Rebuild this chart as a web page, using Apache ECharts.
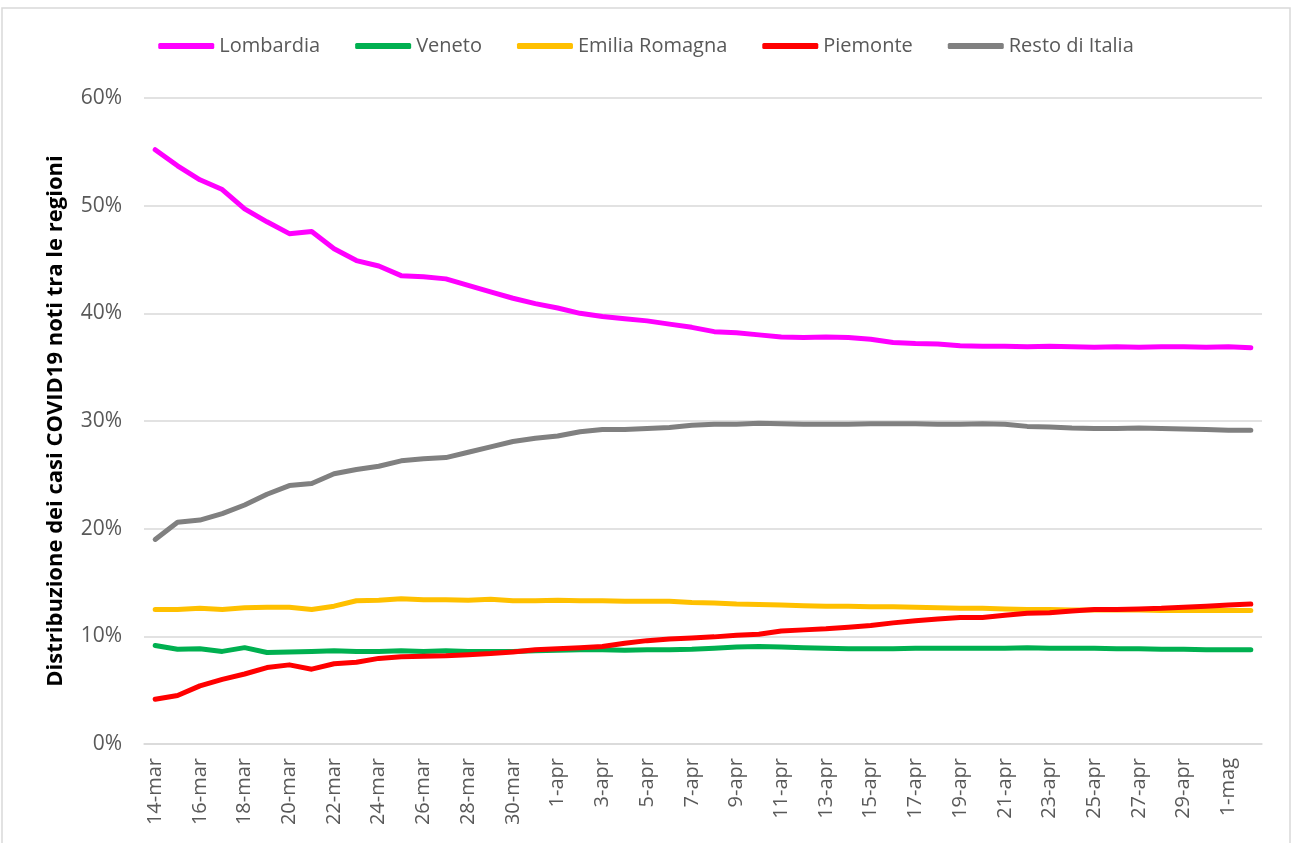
<!DOCTYPE html>
<html>
<head>
<meta charset="utf-8">
<script src="https://cdn.jsdelivr.net/npm/echarts@6/dist/echarts.min.js"></script>
<style>
    html, body { margin: 0; padding: 0; background: #fff; }
    #chart { width: 1292px; height: 843px; }
</style>
</head>
<body>
<div id="chart"></div>
<script>
// date categories 14-mar .. 2-mag
const dates = [
    '14-mar','15-mar','16-mar','17-mar','18-mar','19-mar','20-mar','21-mar','22-mar','23-mar',
    '24-mar','25-mar','26-mar','27-mar','28-mar','29-mar','30-mar','31-mar','1-apr','2-apr',
    '3-apr','4-apr','5-apr','6-apr','7-apr','8-apr','9-apr','10-apr','11-apr','12-apr',
    '13-apr','14-apr','15-apr','16-apr','17-apr','18-apr','19-apr','20-apr','21-apr','22-apr',
    '23-apr','24-apr','25-apr','26-apr','27-apr','28-apr','29-apr','30-apr','1-mag','2-mag'
];

const lombardia = [
    55.2, 53.7, 52.4, 51.5, 49.7, 48.5, 47.4, 47.6, 46.0, 44.9,
    44.4, 43.5, 43.4, 43.2, 42.6, 42.0, 41.4, 40.9, 40.5, 40.0,
    39.7, 39.5, 39.3, 39.0, 38.7, 38.3, 38.2, 38.0, 37.8, 37.75,
    37.8, 37.75, 37.6, 37.3, 37.2, 37.15, 37.0, 36.95, 36.95, 36.9,
    36.95, 36.9, 36.85, 36.9, 36.85, 36.9, 36.9, 36.85, 36.9, 36.8
];
const veneto = [
    9.15, 8.8, 8.85, 8.6, 8.95, 8.5, 8.55, 8.6, 8.65, 8.6,
    8.6, 8.65, 8.6, 8.65, 8.6, 8.6, 8.6, 8.65, 8.7, 8.75,
    8.75, 8.7, 8.75, 8.75, 8.8, 8.9, 9.0, 9.05, 9.0, 8.95,
    8.9, 8.85, 8.85, 8.85, 8.9, 8.9, 8.9, 8.9, 8.9, 8.95,
    8.9, 8.9, 8.9, 8.85, 8.85, 8.8, 8.8, 8.75, 8.75, 8.75
];
const emilia = [
    12.5, 12.5, 12.6, 12.5, 12.65, 12.7, 12.7, 12.5, 12.8, 13.3,
    13.35, 13.5, 13.4, 13.4, 13.35, 13.45, 13.3, 13.3, 13.35, 13.3,
    13.3, 13.25, 13.25, 13.25, 13.15, 13.1, 13.0, 12.95, 12.9, 12.85,
    12.8, 12.8, 12.75, 12.75, 12.7, 12.65, 12.6, 12.6, 12.55, 12.5,
    12.5, 12.45, 12.45, 12.45, 12.45, 12.4, 12.4, 12.4, 12.4, 12.4
];
const piemonte = [
    4.15, 4.5, 5.4, 6.0, 6.5, 7.1, 7.35, 6.95, 7.45, 7.6,
    7.95, 8.1, 8.15, 8.2, 8.3, 8.4, 8.55, 8.75, 8.85, 8.95,
    9.05, 9.35, 9.6, 9.75, 9.85, 9.95, 10.1, 10.2, 10.5, 10.6,
    10.7, 10.85, 11.0, 11.25, 11.45, 11.6, 11.75, 11.75, 11.95, 12.15,
    12.2, 12.35, 12.5, 12.5, 12.55, 12.6, 12.7, 12.8, 12.9, 13.0
];
const resto = [
    19.0, 20.6, 20.8, 21.4, 22.2, 23.2, 24.0, 24.2, 25.1, 25.5,
    25.8, 26.3, 26.5, 26.6, 27.1, 27.6, 28.1, 28.4, 28.6, 29.0,
    29.2, 29.2, 29.3, 29.4, 29.6, 29.7, 29.7, 29.8, 29.75, 29.7,
    29.7, 29.7, 29.75, 29.75, 29.75, 29.7, 29.7, 29.75, 29.7, 29.5,
    29.45, 29.35, 29.3, 29.3, 29.35, 29.3, 29.25, 29.2, 29.15, 29.15
];

const seriesNames = ['Lombardia', 'Veneto', 'Emilia Romagna', 'Piemonte', 'Resto di Italia'];
const seriesColors = ['#ff00ff', '#00b050', '#ffc000', '#ff0000', '#808080'];
const seriesData = [lombardia, veneto, emilia, piemonte, resto];

const chart = echarts.init(document.getElementById('chart'));

const option = {
    backgroundColor: '#fff',
    animation: false,
    textStyle: { fontFamily: 'Open Sans' },
    graphic: [{
        type: 'rect',
        shape: { x: 2, y: 8, width: 1288, height: 845 },
        style: { fill: 'none', stroke: '#d9d9d9', lineWidth: 1.5 },
        silent: true
    }],
    legend: {
        top: 31,
        left: 'center',
        icon: 'roundRect',
        itemWidth: 56,
        itemHeight: 6,
        itemGap: 35,
        textStyle: { fontSize: 20, color: '#595959', fontFamily: 'Open Sans' },
        data: seriesNames
    },
    grid: {
        left: 144,
        right: 30,
        top: 98,
        bottom: 99
    },
    xAxis: {
        type: 'category',
        data: dates,
        boundaryGap: true,
        axisLine: { lineStyle: { color: '#d9d9d9', width: 1.5 } },
        axisTick: { show: false },
        axisLabel: {
            interval: 1,
            rotate: 90,
            margin: 14,
            fontSize: 20,
            color: '#595959',
            fontFamily: 'Open Sans'
        }
    },
    yAxis: {
        type: 'value',
        min: 0,
        max: 60,
        interval: 10,
        name: 'Distribuzione dei casi COVID19 noti tra le regioni',
        nameLocation: 'middle',
        nameGap: 77,
        nameTextStyle: { fontSize: 22, fontWeight: 'bold', color: '#000', fontFamily: 'Open Sans' },
        axisLine: { show: false },
        axisTick: { show: false },
        axisLabel: {
            formatter: '{value}%',
            fontSize: 21,
            color: '#595959',
            margin: 22,
            fontFamily: 'Open Sans'
        },
        splitLine: { lineStyle: { color: '#d9d9d9', width: 1.5 } }
    },
    series: seriesNames.map(function (name, i) {
        return {
            name: name,
            type: 'line',
            data: seriesData[i],
            symbol: 'none',
            color: seriesColors[i],
            lineStyle: { width: 5, color: seriesColors[i], cap: 'round', join: 'round' }
        };
    })
};

chart.setOption(option);
</script>
</body>
</html>
